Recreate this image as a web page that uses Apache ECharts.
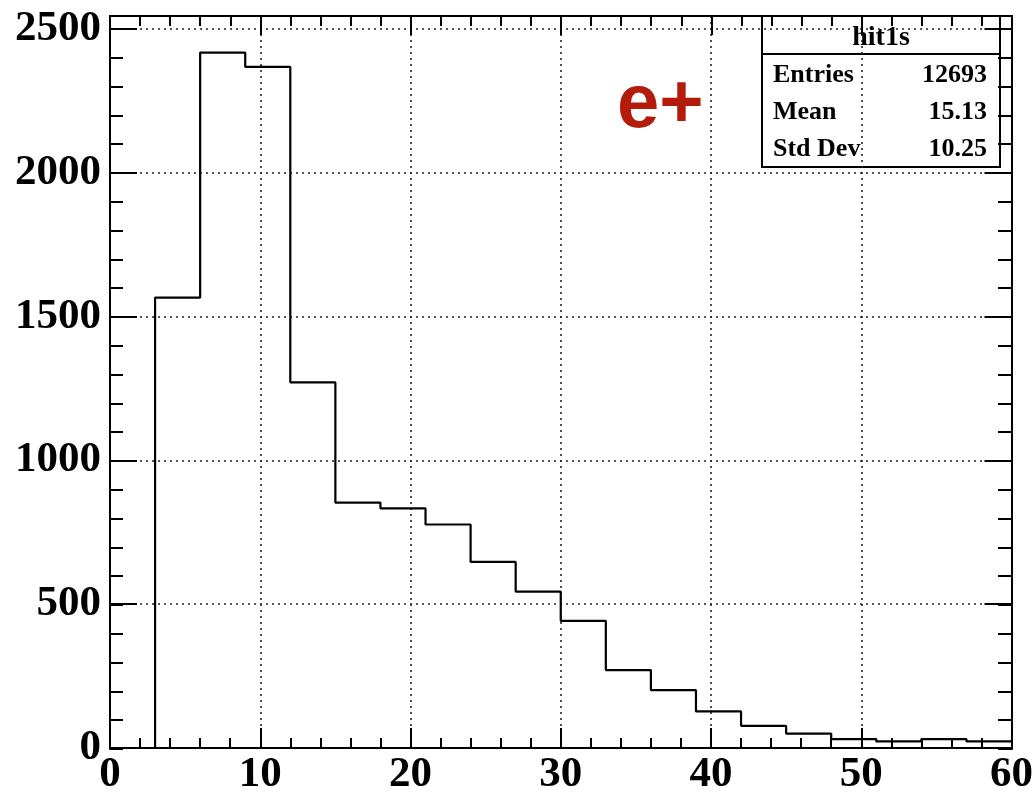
<!DOCTYPE html>
<html>
<head>
<meta charset="utf-8">
<script src="https://cdn.jsdelivr.net/npm/echarts@6/dist/echarts.min.js"></script>
<style>
  html, body { margin: 0; padding: 0; background: #fff; }
  #chart { width: 1036px; height: 796px; }
</style>
</head>
<body>
<div id="chart"></div>
<script>
// Histogram "hit1s": bin edges (width 3) and bin contents
const binEdges = [3, 6, 9, 12, 15, 18, 21, 24, 27, 30, 33, 36, 39, 42, 45, 48, 51, 54, 57, 60];
const counts = [1566, 2418, 2368, 1271, 853, 833, 777, 647, 544, 442, 271, 201, 127, 77, 50, 31, 23, 31, 23];

// Axis tick labels
const xTickLabels = [0, 10, 20, 30, 40, 50, 60];
const yTickLabels = [0, 500, 1000, 1500, 2000, 2500];

// Statistics box
const statsTitle = 'hit1s';
const statsNames = ['Entries', 'Mean', 'Std Dev'];
const statsValues = ['12693', '15.13', '10.25'];

const particleLabel = 'e+';

// Step outline: rise from zero at the first edge, then one step per bin
const outline = [[binEdges[0], 0]];
for (let i = 0; i < counts.length; i++) outline.push([binEdges[i], counts[i]]);
outline.push([binEdges[binEdges.length - 1], counts[counts.length - 1]]);

const X_MIN = xTickLabels[0], X_MAX = xTickLabels[xTickLabels.length - 1];
const X_STEP = xTickLabels[1] - xTickLabels[0];
const Y_STEP = yTickLabels[1] - yTickLabels[0];
const Y_MAX = 2545;

const serif = 'Liberation Serif';
const black = '#000';
const frame = { show: true, onZero: false, lineStyle: { color: black, width: 2 } };
const tickStyle = { color: black, width: 2 };
const dotted = { show: true, lineStyle: { type: [2, 4], color: '#222', width: 1.6 } };
const rect = { left: 110, top: 16, width: 902, height: 733 };

const labelFont = { fontFamily: serif, fontWeight: 'bold', fontSize: 43, color: black };
const plain = v => (yTickLabels.includes(v) || xTickLabels.includes(v)) ? String(v) : '';

const chart = echarts.init(document.getElementById('chart'), null, { renderer: 'canvas' });

chart.setOption({
  animation: false,
  backgroundColor: '#fff',
  grid: [rect, rect],
  xAxis: [
    {
      gridIndex: 0, type: 'value', position: 'bottom',
      min: X_MIN, max: X_MAX, interval: X_STEP,
      axisLine: frame,
      axisTick: { inside: true, length: 20, lineStyle: tickStyle },
      minorTick: { show: true, splitNumber: 5, length: 10, lineStyle: tickStyle },
      axisLabel: Object.assign({ margin: 5, formatter: plain }, labelFont),
      splitLine: dotted
    },
    {
      gridIndex: 1, type: 'value', position: 'top',
      min: X_MIN, max: X_MAX, interval: X_STEP,
      axisLine: frame,
      axisTick: { inside: true, length: 19, lineStyle: tickStyle },
      minorTick: { show: true, splitNumber: 5, length: 10, lineStyle: tickStyle },
      axisLabel: { show: false },
      splitLine: { show: false }
    }
  ],
  yAxis: [
    {
      gridIndex: 0, type: 'value', position: 'left',
      min: 0, max: Y_MAX, interval: Y_STEP,
      axisLine: frame,
      axisTick: { inside: true, length: 27, lineStyle: tickStyle },
      axisLabel: Object.assign({ margin: 9, showMaxLabel: false, formatter: plain }, labelFont),
      splitLine: dotted
    },
    {
      gridIndex: 0, type: 'value', position: 'right',
      min: 0, max: Y_MAX, interval: Y_STEP,
      axisLine: frame,
      axisTick: { inside: true, length: 27, lineStyle: tickStyle },
      axisLabel: { show: false },
      splitLine: { show: false }
    },
    {
      gridIndex: 1, type: 'value', position: 'left',
      min: 0, max: Y_MAX, interval: Y_STEP / 5,
      axisLine: frame,
      axisTick: { inside: true, length: 13, lineStyle: tickStyle },
      axisLabel: { show: false },
      splitLine: { show: false }
    },
    {
      gridIndex: 1, type: 'value', position: 'right',
      min: 0, max: Y_MAX, interval: Y_STEP / 5,
      axisLine: frame,
      axisTick: { inside: true, length: 14, lineStyle: tickStyle },
      axisLabel: { show: false },
      splitLine: { show: false }
    }
  ],
  series: [
    {
      type: 'line',
      xAxisIndex: 0, yAxisIndex: 0,
      step: 'end',
      data: outline,
      showSymbol: false,
      symbol: 'none',
      lineStyle: { color: black, width: 2.2 },
      z: 5
    }
  ],
  graphic: [
    {
      type: 'text', left: 617, top: 68, z: 10,
      style: {
        text: particleLabel, fill: '#b31b0b',
        font: 'bold 76px "Liberation Sans"'
      }
    },
    {
      type: 'group', z: 20,
      children: [
        {
          type: 'rect',
          shape: { x: 762, y: 16, width: 238, height: 151 },
          style: { fill: 'transparent', stroke: black, lineWidth: 2 }
        },
        {
          type: 'line',
          shape: { x1: 762, y1: 54, x2: 1000, y2: 54 },
          style: { stroke: black, lineWidth: 2 }
        },
        {
          type: 'text', x: 881, y: 38,
          style: { text: statsTitle, font: 'bold 28px "Liberation Serif"', fill: black, align: 'center', verticalAlign: 'middle' }
        }
      ].concat(statsNames.map((n, i) => ({
        type: 'text', x: 773, y: 75 + i * 37,
        style: { text: n, font: 'bold 26px "Liberation Serif"', fill: black, align: 'left', verticalAlign: 'middle' }
      }))).concat(statsValues.map((v, i) => ({
        type: 'text', x: 987, y: 75 + i * 37,
        style: { text: v, font: 'bold 26px "Liberation Serif"', fill: black, align: 'right', verticalAlign: 'middle' }
      })))
    }
  ]
});
</script>
</body>
</html>
